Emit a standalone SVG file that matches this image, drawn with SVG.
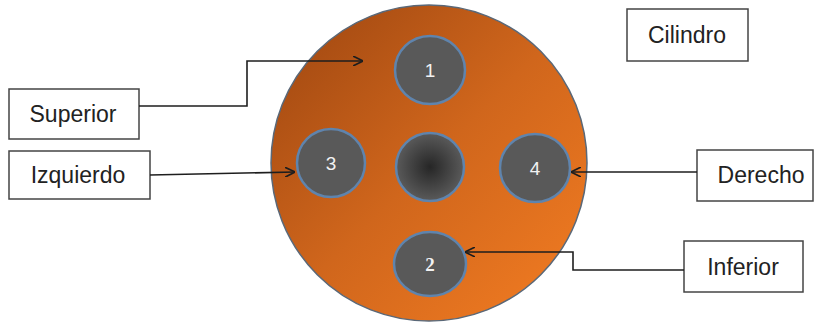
<svg xmlns="http://www.w3.org/2000/svg" width="818" height="325" viewBox="0 0 818 325">
<style>
.box{fill:#fff;stroke:#444;stroke-width:1.5}
.lbl{font-family:"Liberation Sans",Arial,sans-serif;font-size:23px;fill:#222;text-anchor:middle}
.num{font-family:"Liberation Sans",Arial,sans-serif;font-size:19px;fill:#f2f2f2;text-anchor:middle}
.hole{fill:#595959;stroke:#5f84ad;stroke-width:2.5}
.conn{fill:none;stroke:#1e1e1e;stroke-width:1.6}
</style>
<defs>
<linearGradient id="body" x1="0" y1="0" x2="1" y2="1">
<stop offset="0" stop-color="#9c4510"/>
<stop offset="0.5" stop-color="#d0661c"/>
<stop offset="1" stop-color="#f47d22"/>
</linearGradient>
<radialGradient id="core" cx="0.5" cy="0.5" r="0.5">
<stop offset="0" stop-color="#262626"/>
<stop offset="1" stop-color="#5a5a5a"/>
</radialGradient>
<marker id="arr" viewBox="0 0 10 10" refX="10" refY="5" markerWidth="10" markerHeight="10" markerUnits="userSpaceOnUse" orient="auto">
<path d="M0,0 L10,5 L0,10" fill="none" stroke="#1e1e1e" stroke-width="1.6"/>
</marker>
</defs>
<g id="cilindro-body">
<circle cx="429" cy="163" r="158" fill="url(#body)" stroke="#5a6878" stroke-width="1.5"/>
</g>
<g id="hole-1"><ellipse class="hole" cx="430" cy="70" rx="35" ry="34"/><text class="num" x="430" y="77">1</text></g>
<g id="hole-3"><ellipse class="hole" cx="331" cy="163" rx="34" ry="34"/><text class="num" x="331" y="170">3</text></g>
<g id="hole-center"><ellipse cx="430" cy="167" rx="34" ry="34" fill="url(#core)" stroke="#5f84ad" stroke-width="2.5"/></g>
<g id="hole-4"><ellipse class="hole" cx="535" cy="168" rx="35" ry="34"/><text class="num" x="535" y="175">4</text></g>
<g id="hole-2"><ellipse class="hole" cx="430" cy="264" rx="36" ry="32"/><text class="num" x="430" y="271" style="font-family:'Liberation Serif',serif;font-weight:bold">2</text></g>
<g id="box-superior"><rect class="box" x="9" y="89" width="130" height="50"/><text class="lbl" x="73" y="122">Superior</text></g>
<g id="box-izquierdo"><rect class="box" x="9" y="151" width="141" height="48"/><text class="lbl" x="78" y="183">Izquierdo</text></g>
<g id="box-cilindro"><rect class="box" x="627" y="9" width="121" height="52"/><text class="lbl" x="687" y="43">Cilindro</text></g>
<g id="box-derecho"><rect class="box" x="697" y="150" width="116" height="51"/><text class="lbl" x="761" y="183">Derecho</text></g>
<g id="box-inferior"><rect class="box" x="684" y="241" width="119" height="51"/><text class="lbl" x="743" y="275">Inferior</text></g>
<g id="connectors">
<path class="conn" d="M139,106 H247 V61 H363" marker-end="url(#arr)"/>
<path class="conn" d="M150,175 L295,172" marker-end="url(#arr)"/>
<path class="conn" d="M697,172 H571" marker-end="url(#arr)"/>
<path class="conn" d="M684,270 H573 V252 H465" marker-end="url(#arr)"/>
</g>
</svg>
